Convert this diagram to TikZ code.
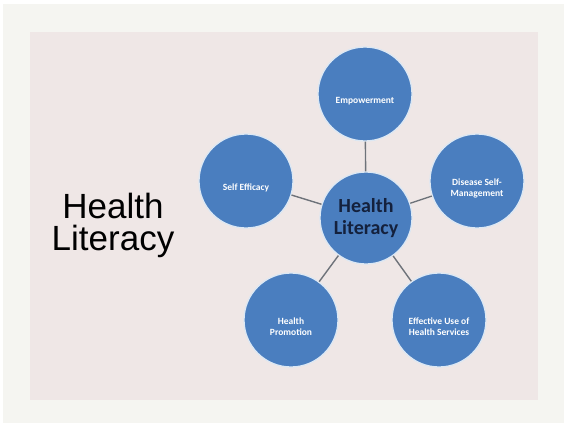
\documentclass[tikz,border=0pt]{standalone}
\usepackage{fontspec}
\setmainfont{Liberation Sans}
\newfontfamily\calfont{Carlito}
\usepackage{xcolor}
\usetikzlibrary{calc}
\definecolor{page}{HTML}{F5F5F1}
\definecolor{panel}{HTML}{EFE7E6}
\definecolor{blob}{HTML}{4A7EBF}
\definecolor{rim}{HTML}{DCE8F4}
\definecolor{navy}{HTML}{14213D}
\definecolor{wire}{HTML}{6E737A}
\tikzset{
  sat/.style={circle, fill=blob, draw=rim, line width=1.3pt, minimum size=94pt, inner sep=0pt},
  satlab/.style={text=white, align=center, yshift=-7pt, font=\calfont\bfseries\fontsize{9.5}{11}\selectfont},
  core/.style={sat, minimum size=92pt, align=center, text=navy, font=\calfont\bfseries\fontsize{20}{22}\selectfont},
  link/.style={draw=wire, line width=1.4pt},
  lab/.style={text=black, align=center, font=\fontsize{35}{32}\selectfont},
}
\begin{document}
\begin{tikzpicture}[x=1pt,y=-1pt]
  \useasboundingbox (0,0) rectangle (564,423);
  \fill[white] (0,0) rectangle (564,423);
  \fill[page] (3,4) rectangle (564,423);
  \fill[panel] (30,32) rectangle (538,400);
  \node[lab] (title) at (113,225) {Health\\Literacy};
  \node[core] (hub) at (366,218) {Health\\Literacy};
  \node[sat, label={[satlab]center:Empowerment}] (emp) at (365,94) {};
  \node[sat, label={[satlab]center:Disease Self-\\Management}] (dsm) at (477,181) {};
  \node[sat, label={[satlab]center:Self Efficacy}] (se) at (246,181) {};
  \node[sat, label={[satlab]center:Health\\Promotion}] (hp) at (291,320) {};
  \node[sat, label={[satlab]center:Effective Use of\\Health Services}] (eus) at (439,320) {};
  \foreach \n in {emp,dsm,se,hp,eus}
    \draw[link] (hub) -- (\n);
\end{tikzpicture}
\end{document}
